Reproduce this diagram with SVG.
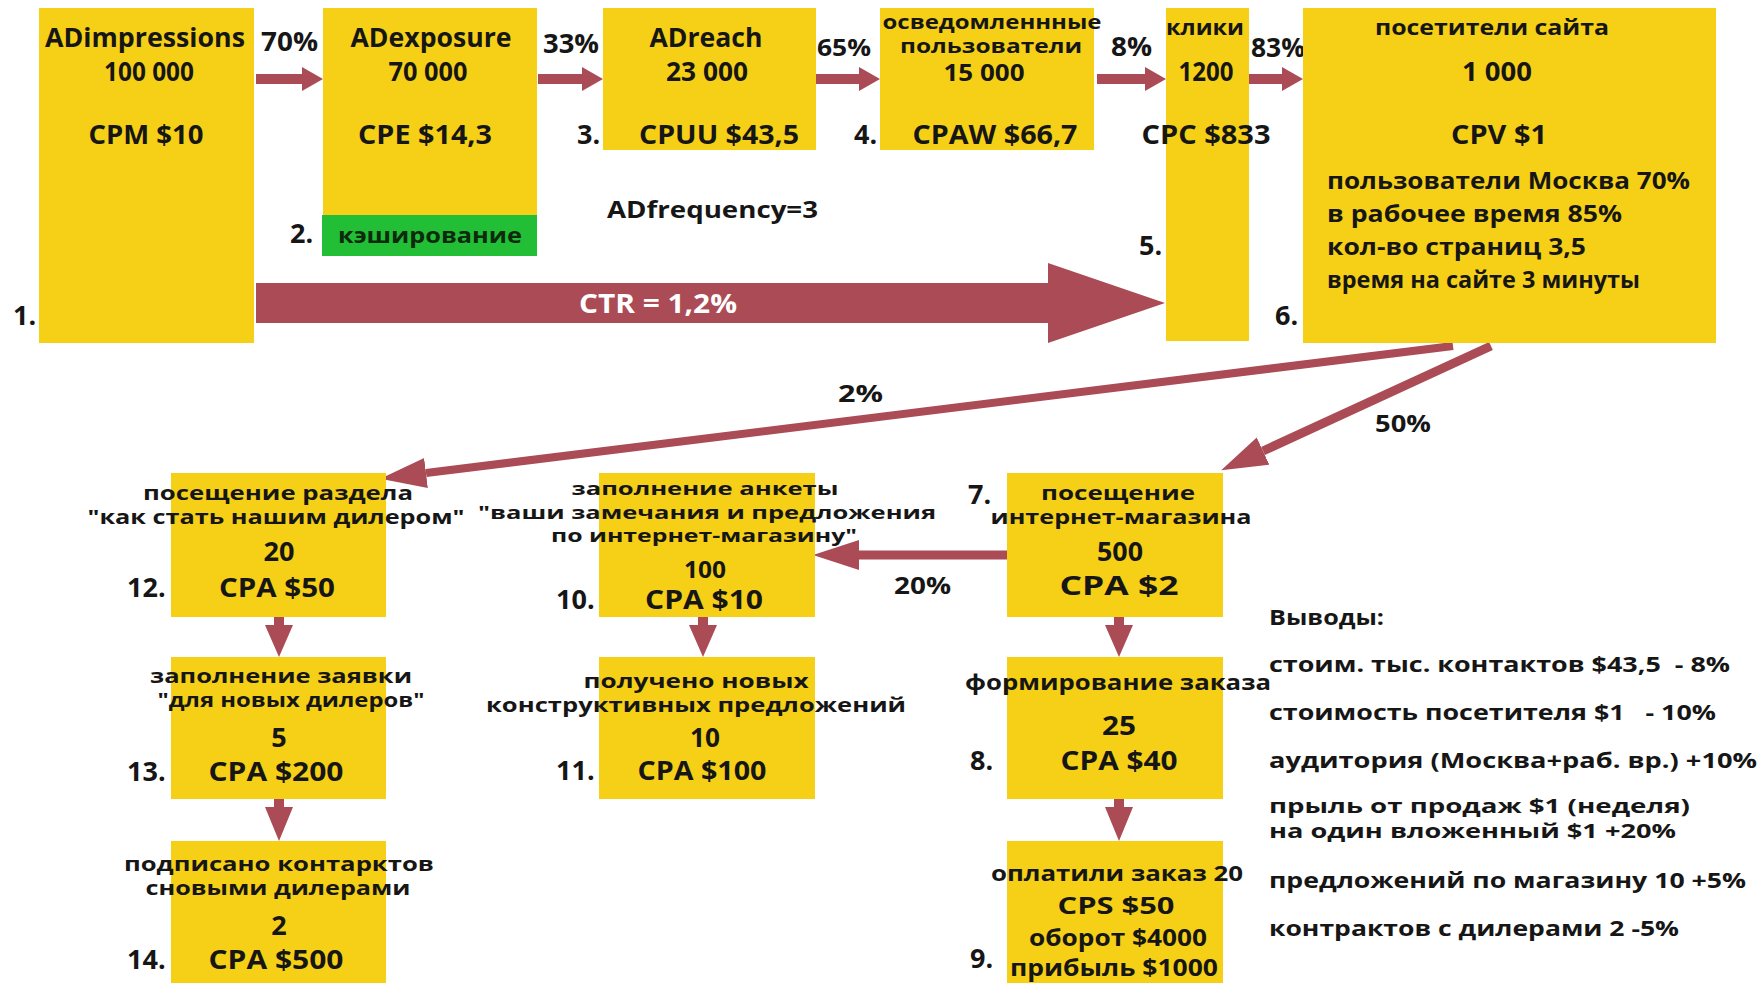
<svg xmlns="http://www.w3.org/2000/svg" width="1764" height="983" viewBox="0 0 1764 983">
<style>
.box{fill:#F5D016}
.grn{fill:#22BE35}
.t{font-family:'Open Sans','DejaVu Sans',sans-serif;font-weight:700;fill:#161616;text-anchor:middle}
.l{font-family:'Open Sans','DejaVu Sans',sans-serif;font-weight:700;fill:#161616}
.big{font-size:27px}
.b2{font-size:24px}
.mid{font-size:24px}
.sm{font-size:22px}
.xs{font-size:19px}
.xxs{font-size:18px}
.arr{fill:#AA4B55}
.ln{stroke:#AA4B55;fill:none}
</style>
<defs>
<marker id="hd" viewBox="0 0 46 30" refX="0" refY="15" markerWidth="46" markerHeight="30" markerUnits="userSpaceOnUse" orient="auto">
<path d="M0,0 L46,15 L0,30 z" fill="#AA4B55"/>
</marker>
</defs>
<rect width="1764" height="983" fill="#ffffff"/>

<g id="connectors">
<polygon class="arr" points="256,74 302,74 302,67 323,79 302,91 302,84 256,84"/>
<polygon class="arr" points="538,74 582,74 582,67 603,79 582,91 582,84 538,84"/>
<polygon class="arr" points="816,74 859,74 859,67 880,79 859,91 859,84 816,84"/>
<polygon class="arr" points="1097,74 1145,74 1145,67 1166,79 1145,91 1145,84 1097,84"/>
<polygon class="arr" points="1249,74 1282,74 1282,67 1303,79 1282,91 1282,84 1249,84"/>
<polygon class="arr" points="256,283 1048,283 1048,263 1165,303 1048,343 1048,323 256,323"/>
<line class="ln" x1="1453" y1="346" x2="426" y2="473" stroke-width="8" marker-end="url(#hd)"/>
<line class="ln" x1="1491" y1="346" x2="1263" y2="451" stroke-width="9" marker-end="url(#hd)"/>
<line class="ln" x1="1007" y1="555" x2="859" y2="555" stroke-width="9" marker-end="url(#hd)"/>
<polygon class="arr" points="274,617 284,617 284,625 293,625 279,657 265,625 274,625"/>
<polygon class="arr" points="274,799 284,799 284,807 293,807 279,841 265,807 274,807"/>
<polygon class="arr" points="698,617 708,617 708,625 717,625 703,657 689,625 698,625"/>
<polygon class="arr" points="1114,617 1124,617 1124,625 1133,625 1119,657 1105,625 1114,625"/>
<polygon class="arr" points="1114,799 1124,799 1124,807 1133,807 1119,841 1105,807 1114,807"/>
<text class="l big" x="261" y="51" textLength="57" lengthAdjust="spacingAndGlyphs">70%</text>
<text class="l big" x="543" y="53" textLength="56" lengthAdjust="spacingAndGlyphs">33%</text>
<text class="l b2" x="817" y="56" textLength="54" lengthAdjust="spacingAndGlyphs">65%</text>
<text class="l big" x="1111" y="56" textLength="41" lengthAdjust="spacingAndGlyphs">8%</text>
<text class="l big" x="1251" y="57" textLength="54" lengthAdjust="spacingAndGlyphs">83%</text>
<text class="l big" x="579" y="313" textLength="158" lengthAdjust="spacingAndGlyphs" style="fill:#ffffff">CTR = 1,2%</text>
<text class="l mid" x="838" y="402" textLength="45" lengthAdjust="spacingAndGlyphs">2%</text>
<text class="l mid" x="1375" y="432" textLength="56" lengthAdjust="spacingAndGlyphs">50%</text>
<text class="l mid" x="894" y="594" textLength="57" lengthAdjust="spacingAndGlyphs">20%</text>
</g>

<g id="n1">
<rect class="box" x="39" y="8" width="215" height="335"/>
<text class="t big" x="145" y="47" textLength="200" lengthAdjust="spacingAndGlyphs">ADimpressions</text>
<text class="t big" x="149" y="81" textLength="90" lengthAdjust="spacingAndGlyphs">100 000</text>
<text class="t big" x="146" y="144" textLength="115" lengthAdjust="spacingAndGlyphs">CPM $10</text>
<text class="l big" x="13" y="325">1.</text>
</g>

<g id="n2">
<rect class="box" x="323" y="8" width="214" height="207"/>
<rect class="grn" x="322" y="215" width="215" height="41"/>
<text class="t big" x="431" y="47" textLength="161" lengthAdjust="spacingAndGlyphs">ADexposure</text>
<text class="t big" x="428" y="81" textLength="79" lengthAdjust="spacingAndGlyphs">70 000</text>
<text class="t big" x="425" y="144" textLength="134" lengthAdjust="spacingAndGlyphs">CPE $14,3</text>
<text class="t sm" x="430" y="243" textLength="184" lengthAdjust="spacingAndGlyphs" style="fill:#0d2a0d">кэширование</text>
<text class="l big" x="290" y="243">2.</text>
</g>

<g id="n3">
<rect class="box" x="603" y="8" width="213" height="142"/>
<text class="t big" x="706" y="47" textLength="113" lengthAdjust="spacingAndGlyphs">ADreach</text>
<text class="t big" x="707" y="81" textLength="82" lengthAdjust="spacingAndGlyphs">23 000</text>
<text class="t big" x="719" y="144" textLength="160" lengthAdjust="spacingAndGlyphs">CPUU $43,5</text>
<text class="l big" x="577" y="144">3.</text>
</g>

<g id="n4">
<rect class="box" x="880" y="8" width="214" height="142"/>
<text class="t xs" x="992" y="29" textLength="219" lengthAdjust="spacingAndGlyphs">осведомленнные</text>
<text class="t xs" x="991" y="53" textLength="182" lengthAdjust="spacingAndGlyphs">пользователи</text>
<text class="t b2" x="984" y="81" textLength="81" lengthAdjust="spacingAndGlyphs">15 000</text>
<text class="t big" x="995" y="144" textLength="165" lengthAdjust="spacingAndGlyphs">CPAW $66,7</text>
<text class="l big" x="854" y="144">4.</text>
</g>

<g id="n5">
<rect class="box" x="1166" y="8" width="83" height="333"/>
<text class="t sm" x="1205" y="35" textLength="78" lengthAdjust="spacingAndGlyphs">клики</text>
<text class="t big" x="1206" y="81" textLength="55" lengthAdjust="spacingAndGlyphs">1200</text>
<text class="t big" x="1206" y="144" textLength="129" lengthAdjust="spacingAndGlyphs">CPC $833</text>
<text class="l big" x="1139" y="255">5.</text>
</g>

<g id="n6">
<rect class="box" x="1303" y="8" width="413" height="335"/>
<text class="t sm" x="1492" y="35" textLength="234" lengthAdjust="spacingAndGlyphs">посетители сайта</text>
<text class="t big" x="1497" y="81" textLength="70" lengthAdjust="spacingAndGlyphs">1 000</text>
<text class="t big" x="1499" y="144" textLength="96" lengthAdjust="spacingAndGlyphs">CPV $1</text>
<text class="l mid" x="1327" y="189" textLength="363" lengthAdjust="spacingAndGlyphs">пользователи Москва 70%</text>
<text class="l mid" x="1327" y="222" textLength="295" lengthAdjust="spacingAndGlyphs">в рабочее время 85%</text>
<text class="l mid" x="1327" y="255" textLength="259" lengthAdjust="spacingAndGlyphs">кол-во страниц 3,5</text>
<text class="l mid" x="1327" y="288" textLength="313" lengthAdjust="spacingAndGlyphs">время на сайте 3 минуты</text>
<text class="l big" x="1275" y="325">6.</text>
</g>

<g id="freq">
<text class="l mid" x="607" y="218" textLength="211" lengthAdjust="spacingAndGlyphs">ADfrequency=3</text>
</g>

<g id="n7">
<rect class="box" x="1007" y="473" width="216" height="144"/>
<text class="t xs" x="1118" y="500" textLength="154" lengthAdjust="spacingAndGlyphs">посещение</text>
<text class="t xs" x="1121" y="524" textLength="261" lengthAdjust="spacingAndGlyphs">интернет-магазина</text>
<text class="t big" x="1120" y="561" textLength="46" lengthAdjust="spacingAndGlyphs">500</text>
<text class="t big" x="1119" y="595" textLength="119" lengthAdjust="spacingAndGlyphs">CPA $2</text>
<text class="l big" x="968" y="504">7.</text>
</g>

<g id="n8">
<rect class="box" x="1007" y="657" width="216" height="142"/>
<text class="t sm" x="1118" y="690" textLength="306" lengthAdjust="spacingAndGlyphs">формирование заказа</text>
<text class="t big" x="1119" y="735" textLength="34" lengthAdjust="spacingAndGlyphs">25</text>
<text class="t big" x="1119" y="770" textLength="117" lengthAdjust="spacingAndGlyphs">CPA $40</text>
<text class="l big" x="970" y="770">8.</text>
</g>

<g id="n9">
<rect class="box" x="1007" y="841" width="216" height="142"/>
<text class="t sm" x="1117" y="881" textLength="252" lengthAdjust="spacingAndGlyphs">оплатили заказ 20</text>
<text class="t b2" x="1116" y="914" textLength="117" lengthAdjust="spacingAndGlyphs">CPS $50</text>
<text class="t b2" x="1118" y="946" textLength="178" lengthAdjust="spacingAndGlyphs">оборот $4000</text>
<text class="t b2" x="1114" y="976" textLength="208" lengthAdjust="spacingAndGlyphs">прибыль $1000</text>
<text class="l big" x="970" y="968">9.</text>
</g>

<g id="n10">
<rect class="box" x="599" y="473" width="216" height="144"/>
<text class="t xxs" x="705" y="495" textLength="267" lengthAdjust="spacingAndGlyphs">заполнение анкеты</text>
<text class="t xxs" x="707" y="519" textLength="458" lengthAdjust="spacingAndGlyphs">"ваши замечания и предложения</text>
<text class="t xxs" x="704" y="542" textLength="306" lengthAdjust="spacingAndGlyphs">по интернет-магазину"</text>
<text class="t b2" x="705" y="578" textLength="42" lengthAdjust="spacingAndGlyphs">100</text>
<text class="t big" x="704" y="609" textLength="118" lengthAdjust="spacingAndGlyphs">CPA $10</text>
<text class="l big" x="556" y="609">10.</text>
</g>

<g id="n11">
<rect class="box" x="599" y="657" width="216" height="142"/>
<text class="t xs" x="696" y="688" textLength="225" lengthAdjust="spacingAndGlyphs">получено новых</text>
<text class="t xs" x="696" y="712" textLength="420" lengthAdjust="spacingAndGlyphs">конструктивных предложений</text>
<text class="t big" x="705" y="747" textLength="30" lengthAdjust="spacingAndGlyphs">10</text>
<text class="t big" x="702" y="780" textLength="129" lengthAdjust="spacingAndGlyphs">CPA $100</text>
<text class="l big" x="556" y="780">11.</text>
</g>

<g id="n12">
<rect class="box" x="171" y="473" width="215" height="144"/>
<text class="t xs" x="278" y="500" textLength="270" lengthAdjust="spacingAndGlyphs">посещение раздела</text>
<text class="t xs" x="276" y="524" textLength="377" lengthAdjust="spacingAndGlyphs">"как стать нашим дилером"</text>
<text class="t big" x="279" y="561" textLength="31" lengthAdjust="spacingAndGlyphs">20</text>
<text class="t big" x="277" y="597" textLength="116" lengthAdjust="spacingAndGlyphs">CPA $50</text>
<text class="l big" x="127" y="597">12.</text>
</g>

<g id="n13">
<rect class="box" x="171" y="657" width="215" height="142"/>
<text class="t xs" x="281" y="683" textLength="262" lengthAdjust="spacingAndGlyphs">заполнение заявки</text>
<text class="t xs" x="291" y="707" textLength="267" lengthAdjust="spacingAndGlyphs">"для новых дилеров"</text>
<text class="t big" x="279" y="747">5</text>
<text class="t big" x="276" y="781" textLength="135" lengthAdjust="spacingAndGlyphs">CPA $200</text>
<text class="l big" x="127" y="781">13.</text>
</g>

<g id="n14">
<rect class="box" x="171" y="841" width="215" height="142"/>
<text class="t xs" x="279" y="871" textLength="310" lengthAdjust="spacingAndGlyphs">подписано контарктов</text>
<text class="t xs" x="278" y="895" textLength="265" lengthAdjust="spacingAndGlyphs">сновыми дилерами</text>
<text class="t big" x="279" y="935">2</text>
<text class="t big" x="276" y="969" textLength="135" lengthAdjust="spacingAndGlyphs">CPA $500</text>
<text class="l big" x="127" y="969">14.</text>
</g>

<g id="conclusions">
<text class="l sm" x="1269" y="625" textLength="115" lengthAdjust="spacingAndGlyphs">Выводы:</text>
<text class="l sm" x="1269" y="672" textLength="461" lengthAdjust="spacingAndGlyphs" xml:space="preserve">стоим. тыс. контактов $43,5  - 8%</text>
<text class="l sm" x="1269" y="720" textLength="447" lengthAdjust="spacingAndGlyphs" xml:space="preserve">стоимость посетителя $1   - 10%</text>
<text class="l sm" x="1269" y="768" textLength="488" lengthAdjust="spacingAndGlyphs">аудитория (Москва+раб. вр.) +10%</text>
<text class="l xs" x="1269" y="813" textLength="421" lengthAdjust="spacingAndGlyphs">прыль от продаж $1 (неделя)</text>
<text class="l xs" x="1269" y="838" textLength="407" lengthAdjust="spacingAndGlyphs">на один вложенный $1 +20%</text>
<text class="l sm" x="1269" y="888" textLength="477" lengthAdjust="spacingAndGlyphs">предложений по магазину 10 +5%</text>
<text class="l sm" x="1269" y="936" textLength="410" lengthAdjust="spacingAndGlyphs">контрактов с дилерами 2 -5%</text>
</g>
</svg>
